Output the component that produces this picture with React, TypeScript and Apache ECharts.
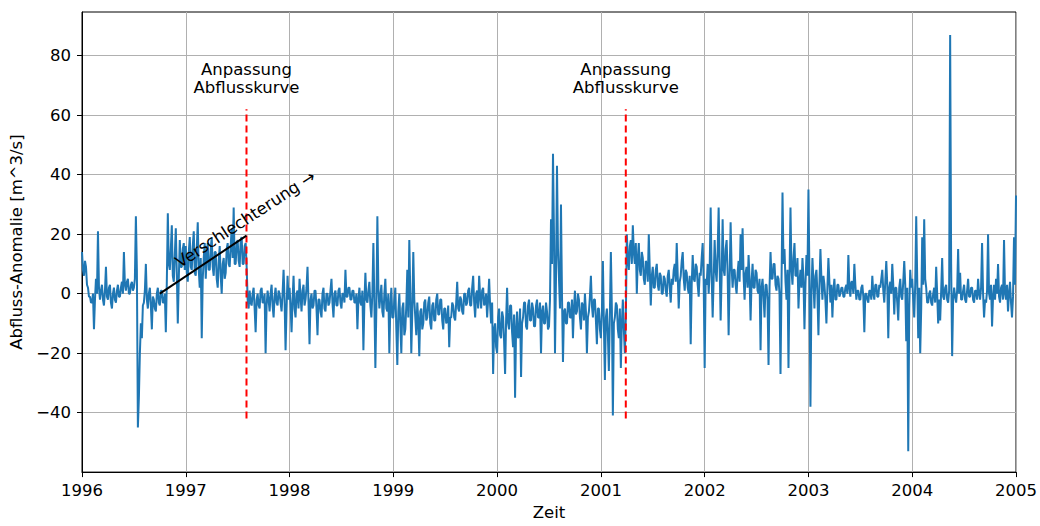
import React, { useEffect, useRef } from "react";
import * as echarts from "echarts";

// Twice-weekly readings of the discharge anomaly [m^3/s], one array per year
const years = [1996, 1997, 1998, 1999, 2000, 2001, 2002, 2003, 2004];
const v1996 = [14, 8, 6, 11, 9, 3, 2, -1, -1, -3, -3, 0, -12, -2, 5, 0, 21, 2, -2, 1, 3, -2, -4, 1, 9, -1, -2, 2, 3, -3, -5, 0, 2, -2, -3, 1, 3, -1, -1, 2, 4, 0, 14, 3, 1, 4, 5, 0, 0, 3, 4, 1, 2, 5, 26, 8, -45, -35, -20, -10, -15, -4, -3, 1, 10, -2, -5, 0, 2, -4, -12, -1, -2, -5, -6, 0, 2, -3, -4, 1, 1, -3, -3, 0, -13, 4, 27, 10, 8, 15, 23, 6, 4, 13, 22, 7, -10, 5, 18, 9, 9, 15, 17, 8];
const v1997 = [16, 7, 4, 14, 19, 9, 8, 16, 21, 7, 6, 15, 24, 8, 2, 12, -15, 5, 12, 17, 5, 13, 17, 8, 8, 15, 19, 9, 6, 14, 14, 5, 2, 11, 16, 6, 0, 10, 12, 5, 7, 15, 17, 10, 9, 16, 22, 12, 29, 10, 10, 17, 18, 11, 9, 18, 19, 10, 10, 16, 17, 9, -2, -5, 1, -3, -4, 0, 2, -5, -13, -2, 0, -4, -5, 1, 2, -3, -3, 0, -20, -4, 1, -2, -6, 0, 3, -4, -8, -1, 2, -3, -4, 1, 0, -3, -6, 0, 8, -2, -19, -5, 6, -2];
const v1998 = [2, -4, -13, -2, 6, -5, -8, 0, 1, -5, 5, -1, -6, 1, 3, -4, -2, 2, 9, -3, -17, -2, 0, -5, -4, 1, 1, -5, -14, -2, -2, -6, -8, 0, 2, -5, -6, 0, 0, -4, -3, 1, 5, -3, -8, 0, 1, -4, -4, 1, 2, -3, -5, 0, 0, -3, 8, -1, -1, 2, 2, -2, -2, 1, 1, -3, -3, 0, -12, -2, 2, -3, -4, 1, -19, -3, 7, -2, -3, 1, 4, -4, -8, 0, 17, -3, -25, -5, 26, 2, -5, -1, 3, -6, -8, 0, 5, -5, -6, 0, -20, -4, 2, -8];
const v1999 = [-8, -2, 2, -12, -24, -6, 0, -10, -20, -5, -3, -14, -12, -4, 8, -8, 18, 0, -20, -6, 14, -2, -8, -14, -3, -9, -21, -6, -5, -12, -10, -3, -2, -9, -8, -3, -1, -10, -12, -4, -3, -9, -9, -2, 0, -7, -7, -2, -2, -9, -12, -5, -5, -10, -9, -4, -18, -8, -8, -3, -4, -8, -9, -3, 4, -5, -6, -1, -2, -6, -7, 0, 0, -4, -3, 1, 2, -4, -4, 2, 6, -3, -8, 0, 1, -5, 6, -1, -5, 1, 2, -4, -3, 0, -8, -2, 5, -4, -10, -3, -27, -12, -10, -18];
const v2000 = [-20, -8, -5, -14, -15, -6, -8, -16, -27, -9, 2, -10, -12, -4, -4, -13, -18, -7, -35, -12, -6, -15, -14, -5, -28, -10, -8, -3, -3, -11, -12, -4, -2, -9, -9, -3, -5, -11, -11, -4, -2, -8, -8, -3, -20, -6, -4, -10, -10, -3, -6, -12, -11, -2, 25, 10, 47, 20, -20, 5, 43, 15, 5, -5, 30, 0, -23, -6, -5, -10, -10, -3, -3, -8, -8, -2, -15, -5, 1, -7, -6, 0, -2, -8, -12, -3, -4, -9, 0, -6, -20, -8, -6, -1, 6, -4, -8, -2, -2, -9, -17, -5, -5, -12];
const v2001 = [-15, -6, 11, -10, -29, -8, -5, -14, -26, -7, 14, -5, -41, -10, -8, -3, -4, -12, -15, -5, -25, -10, -2, -12, -20, -8, 20, 12, 8, 16, 18, 10, 23, 14, 10, 17, 0, 12, 17, 8, 6, 14, 12, 5, 3, 11, 10, 4, 20, 8, -4, 6, 9, 2, 2, 8, 10, 3, 1, 7, 6, 0, 0, 6, 5, 1, -1, 6, 8, 2, -3, 5, 3, 8, 10, 4, 17, 6, -5, 4, 6, 11, 14, 5, 1, 8, 7, 2, 0, 6, -17, 3, 13, 5, 4, 10, 9, 3, -1, 7, 6, 12, 17, 4];
const v2002 = [-25, 5, 3, 10, 0, 8, 29, 6, -8, 5, 18, 8, 4, 14, 29, 10, -9, 6, 25, 8, 6, 15, 18, 7, -14, 5, 24, 9, 2, 8, 8, 3, 0, 7, 11, 4, 20, 8, 22, 6, -2, 7, 9, 2, 13, 5, -9, 4, 10, 2, 2, 8, 7, 1, 0, 5, -19, 2, 5, -1, -8, 3, 3, -2, -24, 2, 14, 5, 5, 10, 10, 3, 1, 6, 5, 0, -27, 3, 34, 10, 15, 4, -2, 8, -25, 5, 29, 8, 3, 12, 17, 6, 6, 12, -5, 4, 8, 2, 12, 5, -12, 3, 13, 6];
const v2003 = [35, 6, -38, 0, 12, 4, -5, 6, 8, 0, -14, 3, 15, 5, -2, 6, 3, -2, -10, 2, 12, 4, -3, 3, -8, 1, 5, -2, -2, 3, 3, -1, 0, 2, 2, -1, -1, 2, 3, 0, 13, 2, -1, 4, 4, 0, 10, 3, -2, 1, 1, -2, -2, 2, 3, -1, -13, 0, 0, -2, -3, 1, 1, -2, 6, 0, -2, 3, 3, -1, -1, 3, 2, 5, 8, 1, -3, 4, 11, 3, -15, 2, 4, 0, 10, 3, -7, 2, 2, -3, -9, 2, 5, -1, -2, 4, 11, 3, -16, 2, -53, -5, 8, 2];
const v2004 = [5, -2, -8, 3, 26, 5, -15, 2, -20, -5, 19, 3, 25, 5, 2, -3, -3, 0, 1, -3, -4, 0, 2, -3, 9, 0, -10, -2, -9, 1, 12, -1, -2, 2, 3, -2, -3, 1, 87, 10, -21, -2, 2, -1, -3, 1, 15, 0, 7, -2, -2, 1, 3, -2, -3, 1, 5, -1, -1, 2, 2, -2, -3, 1, 1, -2, 5, 0, -2, 2, 17, 0, -8, -2, -3, 1, 20, 0, -2, 3, -11, -1, 3, -2, 5, 0, 10, -1, -3, 2, 3, -2, 18, 0, -2, 3, -6, 0, 4, -3, -8, -1, 19, 3];
const valuesByYear = [v1996, v1997, v1998, v1999, v2000, v2001, v2002, v2003, v2004];
const endYear = 2005;
const endValue = 33;

// Annotations
const adjustmentYears = [1997.585, 2001.24];
const adjustmentRange = [-42, 62];
const adjustmentLabelY = 72.5;
const adjustmentLabel = "Anpassung\nAbflusskurve";
const trendX = [1996.75, 1997.585];
const trendY = [0, 19.5];
const trendLabel = "Verschlechterung \u2192";
const trendLabelPos = [1997.575, 25];
const trendLabelAngle = 33;

const yTicks = [-40, -20, 0, 20, 40, 60, 80];
const xTicks = [1996, 1997, 1998, 1999, 2000, 2001, 2002, 2003, 2004, 2005];

const FONT = "DejaVu Sans";
const FS = 16.5;

export default function App() {
  const ref = useRef<HTMLDivElement>(null);
  useEffect(() => {
    if (!ref.current) return;
    const chart = echarts.init(ref.current, undefined, { renderer: "svg" });
    const series: any[] = [];
    const data: number[][] = [];
    years.forEach((y, k) => {
      const arr = valuesByYear[k];
      arr.forEach((v, i) => data.push([y + i / arr.length, v]));
    });
    data.push([endYear, endValue]);
    series.push({
      type: "line",
      data,
      showSymbol: false,
      symbol: "none",
      lineStyle: { color: "#1f77b4", width: 2 },
      z: 3,
      silent: true,
    });
    adjustmentYears.forEach((x) => {
      series.push({
        type: "line",
        data: [[x, adjustmentRange[0]], [x, adjustmentRange[1]]],
        symbol: "none",
        lineStyle: { color: "#ff0000", width: 2, type: [7, 4] },
        z: 4,
        silent: true,
      });
    });
    series.push({
      type: "line",
      data: trendX.map((x, i) => [x, trendY[i]]),
      symbol: "none",
      lineStyle: { color: "#000", width: 2 },
      z: 5,
      silent: true,
    });

    chart.setOption({
      animation: false,
      backgroundColor: "#fff",
      textStyle: { fontFamily: FONT },
      grid: {
        left: 82,
        right: 22,
        top: 12,
        bottom: 49,
        show: true,
        borderColor: "#000",
        borderWidth: 1,
        backgroundColor: "transparent",
        containLabel: false,
      },
      xAxis: {
        type: "value",
        min: 1996,
        max: 2005,
        interval: 1,
        name: "Zeit",
        nameLocation: "middle",
        nameGap: 31,
        nameTextStyle: { fontFamily: FONT, fontSize: FS, color: "#000" },
        axisLine: { show: true, onZero: false, lineStyle: { color: "#000", width: 1 } },
        axisTick: { show: true, inside: false, length: 5, lineStyle: { color: "#000" }, customValues: xTicks },
        axisLabel: {
          margin: 10,
          fontFamily: FONT,
          fontSize: FS,
          color: "#000",
          customValues: xTicks,
          formatter: (v: number) => String(Math.round(v)),
        },
        splitLine: { show: true, lineStyle: { color: "#b0b0b0", width: 1 } },
      },
      yAxis: {
        type: "value",
        min: -60,
        max: 94.7,
        interval: 20,
        name: "Abfluss-Anomalie [m^3/s]",
        nameLocation: "middle",
        nameGap: 55,
        nameTextStyle: { fontFamily: FONT, fontSize: FS, color: "#000" },
        axisLine: { show: true, onZero: false, lineStyle: { color: "#000", width: 1 } },
        axisTick: { show: true, inside: false, length: 5, lineStyle: { color: "#000" }, customValues: yTicks },
        axisLabel: {
          margin: 11,
          fontFamily: FONT,
          fontSize: FS,
          color: "#000",
          customValues: yTicks,
          formatter: (v: number) => String(v).replace("-", "\u2212"),
        },
        splitLine: { show: true, lineStyle: { color: "#b0b0b0", width: 1 } },
      },
      series,
    });

    const graphics: any[] = [];
    adjustmentYears.forEach((x) => {
      const p = chart.convertToPixel({ gridIndex: 0 }, [x, adjustmentLabelY]) as number[];
      graphics.push({
        type: "text",
        x: p[0],
        y: p[1],
        z: 10,
        silent: true,
        style: {
          text: adjustmentLabel,
          fill: "#000",
          font: `${FS}px "${FONT}"`,
          align: "center",
          verticalAlign: "middle",
          lineHeight: 18,
        },
      });
    });
    const tp = chart.convertToPixel({ gridIndex: 0 }, trendLabelPos) as number[];
    graphics.push({
      type: "text",
      x: tp[0],
      y: tp[1],
      rotation: (trendLabelAngle * Math.PI) / 180,
      z: 10,
      silent: true,
      style: {
        text: trendLabel,
        fill: "#000",
        font: `${FS}px "${FONT}"`,
        align: "center",
        verticalAlign: "middle",
      },
    });
    chart.setOption({ graphic: graphics });

    return () => chart.dispose();
  }, []);
  return (
    <div
      ref={ref}
      style={{ position: "fixed", left: 0, top: 0, width: 1040, height: 526 }}
    />
  );
}
